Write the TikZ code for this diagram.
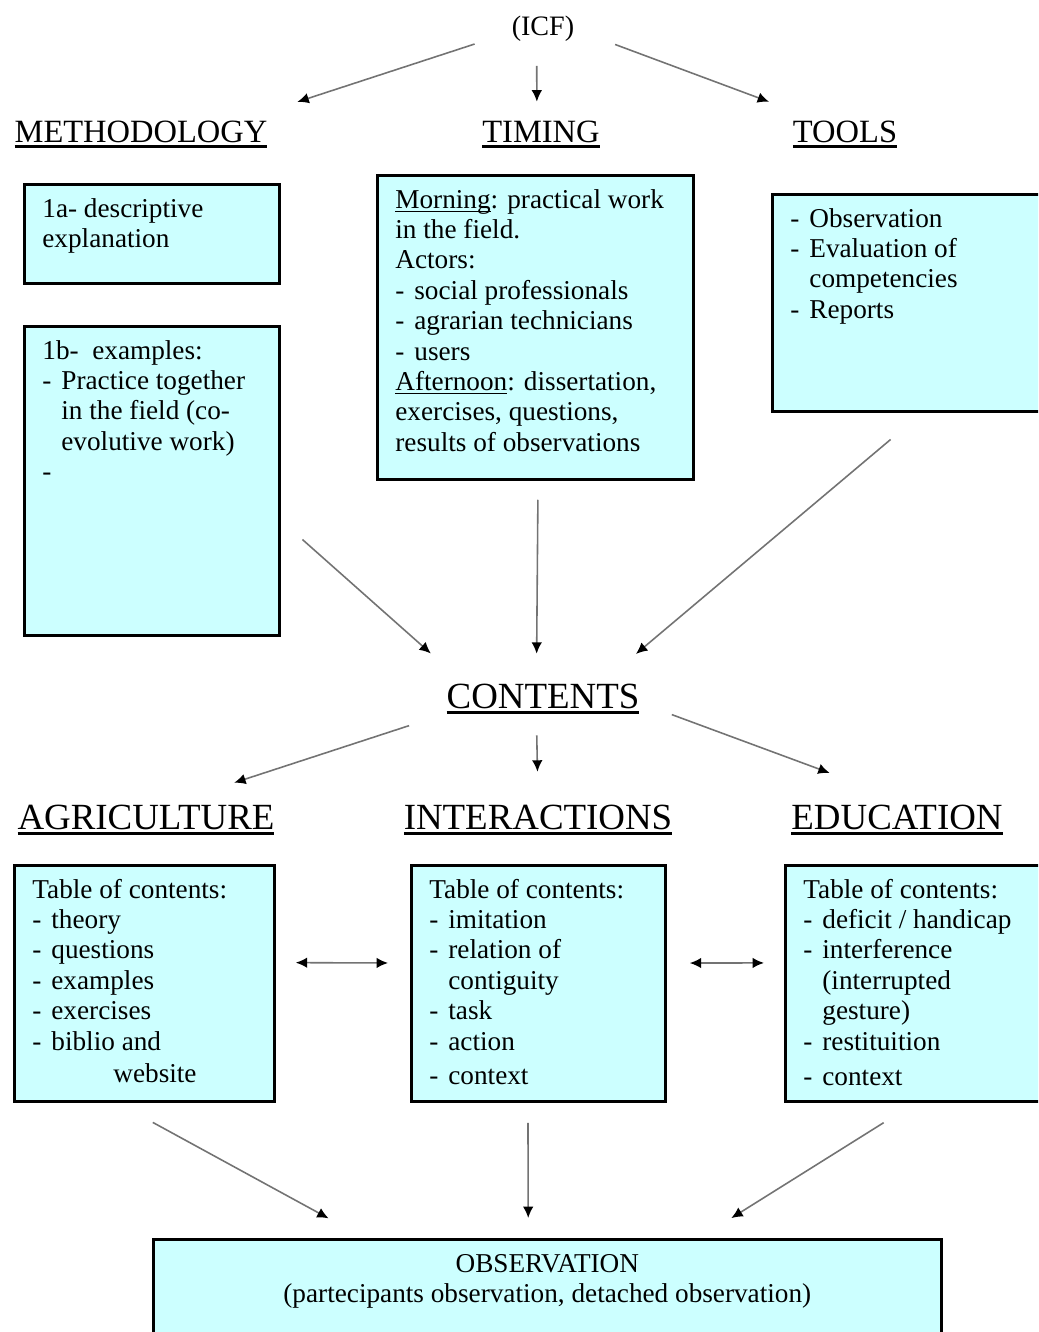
\documentclass[tikz,border=0pt]{standalone}
\usepackage{fontspec}
\setmainfont{Liberation Serif}
\usetikzlibrary{arrows.meta}

\definecolor{boxcyan}{HTML}{CCFFFF}

% underlines for the titles and for Morning / Afternoon
\newcommand{\hdrline}[1]{\leavevmode\setbox0\hbox{#1}\rlap{\vrule width\wd0 height -1.7pt depth 3.4pt}\box0}
\newcommand{\ulmark}[1]{\leavevmode\setbox0\hbox{#1}\rlap{\vrule width\wd0 height -1.4pt depth 2.2pt}\box0}
\newcommand{\itm}{\makebox[0.38cm][l]{-}}
\newcommand{\cnt}{\hspace*{0.38cm}}
\newcommand{\cellbody}[3]{\parbox[c][#2][t]{#1}{\raggedright\leftskip=0.36cm\vspace*{0.23cm}\strut #3}}

\tikzset{
  box/.style={draw, line width=1.6pt, fill=boxcyan, inner sep=0pt, anchor=north west,
    font=\fontsize{15.5}{17.3}\selectfont},
  head/.style={inner sep=2pt, anchor=base, font=\fontsize{18.5}{22}\selectfont},
  bighead/.style={head, font=\fontsize{21}{25}\selectfont},
  arr/.style={->, draw=gray!90!black, line width=0.9pt},
}

\begin{document}
\begin{tikzpicture}[x=0.02cm, y=-0.02cm, >={Latex[length=6.5pt,width=6pt,color=black]}]
    \useasboundingbox (0,0) rectangle (1038,1332);
    \clip (0,0) rectangle (1038,1332);

    % 1. Top: ICF and the three headings
    \node[head, font=\fontsize{16}{19}\selectfont] (icf) at (543,35) {(ICF)};
    \node[head] (method) at (141,142) {\hdrline{METHODOLOGY}};
    \node[head] (timing) at (541,142) {\hdrline{TIMING}};
    \node[head] (tools) at (845,142) {\hdrline{TOOLS}};

    % 2. Boxes of the upper row
    \node[box] (b1a) at (23,183) {\cellbody{5.10cm}{1.98cm}{1a- descriptive\\ explanation}};
    \node[box] (b1b) at (23,325) {\cellbody{5.10cm}{6.18cm}{1b-\ \ examples:\\
        \itm Practice together\\ \cnt in the field (co-\\ \cnt evolutive work)\\ -}};
    \node[box] (timebox) at (376,174) {\cellbody{6.32cm}{6.08cm}{\ulmark{Morning}: practical work\\
        in the field.\\ Actors:\\ \itm social professionals\\ \itm agrarian technicians\\ \itm users\\
        \ulmark{Afternoon}: dissertation,\\ exercises, questions,\\ results of observations}};
    \node[box] (toolbox) at (771,193) {\cellbody{5.38cm}{4.34cm}{\itm Observation\\
        \itm Evaluation of\\ \cnt competencies\\ \itm Reports}};

    % 3. Contents and its three headings
    \node[bighead] (contents) at (543,708) {\hdrline{CONTENTS}};
    \node[bighead] (agri) at (146,829) {\hdrline{AGRICULTURE}};
    \node[bighead] (inter) at (538,829) {\hdrline{INTERACTIONS}};
    \node[bighead] (educ) at (897,829) {\hdrline{EDUCATION}};

    % 4. Boxes of the lower row
    \node[box] (agribox) at (13,864) {\cellbody{5.20cm}{4.72cm}{Table of contents:\\
        \itm theory\\ \itm questions\\ \itm examples\\ \itm exercises\\ \itm biblio and\\[1pt]
        \hspace*{1.62cm}website}};
    \node[box] (interbox) at (410,864) {\cellbody{5.08cm}{4.72cm}{Table of contents:\\
        \itm imitation\\ \itm relation of\\ \cnt contiguity\\ \itm task\\ \itm action\\[2.5pt]
        \itm context}};
    \node[box] (educbox) at (784,864) {\cellbody{5.12cm}{4.72cm}{Table of contents:\\
        \itm deficit / handicap\\ \itm interference\\ \cnt (interrupted\\ \cnt gesture)\\
        \itm restituition\\[3pt] \itm context}};

    % 5. Observation
    \node[box] (obsbox) at (152,1238) {\cellbody{15.76cm}{2.04cm}{\centering OBSERVATION\\
        (partecipants observation, detached observation)}};

    % 6. Arrows
    \draw[arr, shorten <=0.70cm, shorten >=0.95cm] (icf.188) -- (method.9);
    \draw[arr, shorten <=0.42cm, shorten >=0.30cm] (icf.-111) -- (timing.103);
    \draw[arr, shorten <=0.79cm, shorten >=0.85cm] (icf.-4) -- (tools.154);

    \draw[arr, shorten <=0.58cm, shorten >=0.79cm] (b1b.-17) -- (contents.167);
    \draw[arr, shorten <=0.38cm, shorten >=0.52cm] (timebox.-89) -- (contents.109);
    \draw[arr, shorten <=0.83cm, shorten >=0.80cm] (toolbox.-82) -- (contents.17);

    \draw[arr, shorten <=0.71cm, shorten >=1.16cm] (contents.189) -- (agri.30);
    \draw[arr, shorten <=0.35cm, shorten >=0.58cm] (contents.-109) -- (inter.north);
    \draw[arr, shorten <=0.61cm, shorten >=1.60cm] (contents.-3) -- (educ.68);

    \draw[arr, <->, shorten <=0.40cm, shorten >=0.44cm] (agribox.9) -- (interbox.171);
    \draw[arr, <->, shorten <=0.46cm, shorten >=0.40cm] (interbox.9) -- (educbox.171);

    \draw[arr, shorten <=0.82cm, shorten >=0.82cm] (agribox.-103) -- (obsbox.164);
    \draw[arr, shorten <=0.40cm, shorten >=0.40cm] (interbox.-95) -- (obsbox.110);
    \draw[arr, shorten <=0.75cm, shorten >=0.75cm] (educbox.-89) -- (obsbox.19);
\end{tikzpicture}
\end{document}
